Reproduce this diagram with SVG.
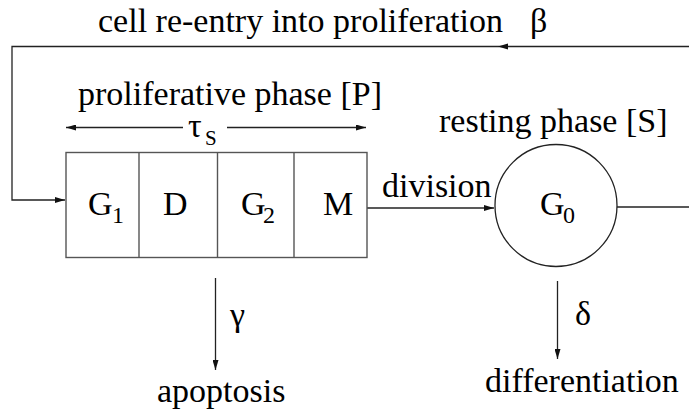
<svg xmlns="http://www.w3.org/2000/svg" width="689" height="412" viewBox="0 0 689 412">
<style>
  text { font-family: "Liberation Serif", "Times New Roman", serif; font-size: 34px; fill: #000; }
  .sub { font-size: 24px; }
  .tsub { font-size: 21px; }
  .line { fill: none; stroke: #222; stroke-width: 1.3; }
  .box { fill: #fff; stroke: #555; stroke-width: 1.4; }
  .circ { fill: #fff; stroke: #222; stroke-width: 1.3; }
</style>
<defs>
  <marker id="arr" viewBox="0 0 10 6" refX="10" refY="3" markerWidth="10" markerHeight="6" markerUnits="userSpaceOnUse" orient="auto">
    <path d="M0,0 L10,3 L0,6 z" fill="#111"/>
  </marker>
</defs>
<g id="connectors">
  <path class="line" d="M689,46.5 H12 V200 H65" marker-end="url(#arr)"/>
  <path d="M498,46.5 L508,43.5 L508,49.5 z" fill="#111"/>
  <path class="line" d="M367,208 H494" marker-end="url(#arr)"/>
  <path class="line" d="M617,207 H689"/>
  <path class="line" d="M183,127.5 H66" marker-end="url(#arr)"/>
  <path class="line" d="M227,127.5 H366" marker-end="url(#arr)"/>
  <path class="line" d="M215.5,278 V370" marker-end="url(#arr)"/>
  <path class="line" d="M557.5,281 V359" marker-end="url(#arr)"/>
</g>
<g id="feedback-label">
  <text x="98" y="32">cell re-entry into proliferation</text>
  <text x="530" y="32">β</text>
</g>
<g id="proliferative-label">
  <text x="78" y="105">proliferative phase [P]</text>
  <text x="188" y="137">τ<tspan class="tsub" x="205" y="145">S</tspan></text>
</g>
<g id="proliferative-phase">
  <rect class="box" x="66" y="152.5" width="301" height="105"/>
  <line class="box" x1="139" y1="152.5" x2="139" y2="257.5"/>
  <line class="box" x1="217.5" y1="152.5" x2="217.5" y2="257.5"/>
  <line class="box" x1="294" y1="152.5" x2="294" y2="257.5"/>
  <text x="88" y="215">G<tspan class="sub" x="112" y="223">1</tspan></text>
  <text x="163" y="215">D</text>
  <text x="241" y="215">G<tspan class="sub" x="263" y="223">2</tspan></text>
  <text x="323" y="215">M</text>
</g>
<g id="division-label">
  <text x="382" y="197">division</text>
</g>
<g id="resting-phase">
  <text x="439" y="132">resting phase [S]</text>
  <circle class="circ" cx="556" cy="205.5" r="61"/>
  <text x="540" y="215">G<tspan class="sub" x="563" y="223">0</tspan></text>
</g>
<g id="apoptosis">
  <text x="230" y="326">γ</text>
  <text x="157" y="402">apoptosis</text>
</g>
<g id="differentiation">
  <text x="575" y="325">δ</text>
  <text x="485" y="392">differentiation</text>
</g>
</svg>
